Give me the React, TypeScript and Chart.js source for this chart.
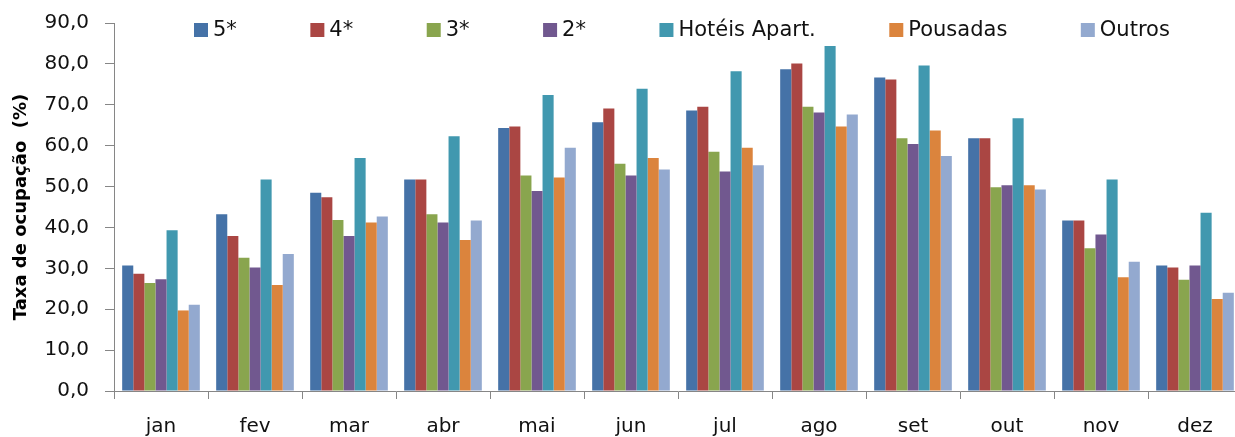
import React, { useEffect, useRef } from 'react';
import { Chart, registerables } from 'chart.js';

Chart.register(...registerables);

const months = ['jan', 'fev', 'mar', 'abr', 'mai', 'jun', 'jul', 'ago', 'set', 'out', 'nov', 'dez'];
const seriesNames = ['5*', '4*', '3*', '2*', 'Hotéis Apart.', 'Pousadas', 'Outros'];
const s5 = [30.7, 43.2, 48.5, 51.7, 64.3, 65.7, 68.6, 78.7, 76.7, 61.8, 41.7, 30.7];
const s4 = [28.7, 37.9, 47.4, 51.7, 64.7, 69.1, 69.5, 80.1, 76.2, 61.8, 41.7, 30.2];
const s3 = [26.4, 32.6, 41.8, 43.2, 52.7, 55.6, 58.5, 69.5, 61.8, 49.8, 34.9, 27.2];
const s2 = [27.3, 30.2, 37.9, 41.2, 48.9, 52.7, 53.7, 68.1, 60.4, 50.3, 38.3, 30.7];
const hoteisApart = [39.3, 51.7, 57.0, 62.3, 72.4, 73.9, 78.2, 84.4, 79.6, 66.7, 51.7, 43.6];
const pousadas = [19.7, 25.9, 41.2, 36.9, 52.2, 57.0, 59.5, 64.7, 63.7, 50.3, 27.8, 22.5];
const outros = [21.1, 33.5, 42.7, 41.7, 59.5, 54.2, 55.2, 67.6, 57.5, 49.3, 31.6, 24.0];
const seriesValues = [s5, s4, s3, s2, hoteisApart, pousadas, outros];
const colors = ['#4572A7', '#AA4643', '#89A54E', '#71588F', '#4198AF', '#DB843D', '#93A9CF'];
const yAxisTitle = 'Taxa de ocupação  (%)';

const FONT = '"DejaVu Sans", Verdana, sans-serif';

const customLegend = {
  id: 'customLegend',
  afterDraw(chart: any) {
    const ctx = chart.ctx;
    ctx.save();
    ctx.font = `21px ${FONT}`;
    ctx.textBaseline = 'middle';
    ctx.textAlign = 'left';
    const box = 14;
    const gapText = 5;
    const gapItem = 73.5;
    let x = 194;
    const y = 30;
    chart.data.datasets.forEach((ds: any) => {
      ctx.fillStyle = ds.backgroundColor;
      ctx.fillRect(x, y - 7, box, box);
      ctx.fillStyle = '#111';
      ctx.fillText(ds.label, x + box + gapText, y + 1);
      x += box + gapText + ctx.measureText(ds.label).width + gapItem;
    });
    ctx.restore();
  },
};

export default function App() {
  const ref = useRef<HTMLCanvasElement>(null);
  useEffect(() => {
    if (!ref.current) return;
    const chart = new Chart(ref.current, {
      type: 'bar',
      data: {
        labels: months,
        datasets: seriesNames.map((name, i) => ({
          label: name,
          data: seriesValues[i],
          backgroundColor: colors[i],
          borderWidth: 0,
          categoryPercentage: 0.826,
          barPercentage: 1.0,
        })),
      },
      options: {
        animation: false,
        responsive: false,
        layout: { padding: { top: 23, left: 0, right: 0, bottom: 0 } },
        plugins: {
          legend: { display: false },
          tooltip: { enabled: false },
        },
        scales: {
          x: {
            afterFit: (scale: any) => {
              scale.height = 48;
              scale.paddingLeft = 0;
              scale.paddingRight = 0;
            },
            grid: {
              display: true,
              drawOnChartArea: false,
              drawTicks: true,
              tickLength: 8,
              color: '#868686',
              offset: true,
            },
            border: { display: true, color: '#868686', width: 1 },
            ticks: {
              font: { family: FONT, size: 20 },
              color: '#111',
              padding: 16,
              maxRotation: 0,
            },
          },
          y: {
            min: 0,
            max: 90,
            afterFit: (scale: any) => {
              scale.width = 114;
              scale.paddingTop = 0;
              scale.paddingBottom = 0;
            },
            grid: {
              display: true,
              drawOnChartArea: false,
              drawTicks: true,
              tickLength: 9,
              color: '#868686',
            },
            border: { display: true, color: '#868686', width: 1 },
            ticks: {
              stepSize: 10,
              font: { family: FONT, size: 20 },
              color: '#111',
              padding: 16,
              callback: (v: any) => Number(v).toFixed(1).replace('.', ','),
            },
            title: {
              display: true,
              text: yAxisTitle,
              font: { family: FONT, size: 18, weight: 'bold' },
              color: '#000',
              padding: { top: 11, bottom: 0 },
            },
          },
        },
      },
      plugins: [customLegend],
    });
    return () => chart.destroy();
  }, []);
  return (
    <div
      style={{
        position: 'fixed',
        left: 0,
        top: 0,
        width: 1235,
        height: 437,
        overflow: 'hidden',
        background: '#fff',
      }}
    >
      <canvas ref={ref} width={1242} height={439} style={{ width: 1242, height: 439, display: 'block' }} />
    </div>
  );
}
